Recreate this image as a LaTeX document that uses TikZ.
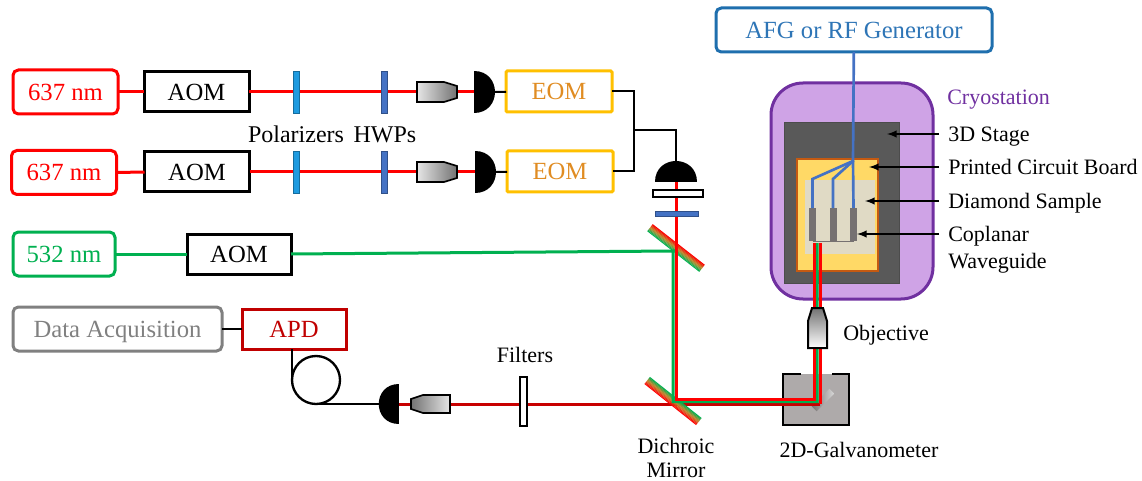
\documentclass[tikz,border=0pt]{standalone}
\usepackage{fontspec}
\setmainfont{Liberation Serif}
\usetikzlibrary{arrows}
\definecolor{laserred}{HTML}{FF0000}
\definecolor{darkbeam}{HTML}{C80000}
\definecolor{apdred}{HTML}{C00000}
\definecolor{pumpgreen}{HTML}{00B050}
\definecolor{mirrormid}{HTML}{C08A30}
\definecolor{eomgold}{HTML}{FFC000}
\definecolor{eomtext}{HTML}{E08C22}
\definecolor{afgblue}{HTML}{1F6FAE}
\definecolor{afgtext}{HTML}{2E75B6}
\definecolor{wireblue}{HTML}{4472C4}
\definecolor{polblue}{HTML}{1E9BE0}
\definecolor{cryofill}{HTML}{CFA3E6}
\definecolor{cryoline}{HTML}{7030A0}
\definecolor{stagegray}{HTML}{595959}
\definecolor{boardfill}{HTML}{FFD966}
\definecolor{boardline}{HTML}{C55A11}
\definecolor{samplefill}{HTML}{E0DAC5}
\definecolor{padgray}{HTML}{767171}
\definecolor{galvogray}{HTML}{AEAAAA}
\newcommand{\mirrorbands}[2]{
\foreach \k/\mix in {0/100,1/75,2/50,3/25,4/0} {
		\fill[#1!\mix!mirrormid] (-33,\k-4.5) rectangle (33,\k-3.3);}
\foreach \k/\mix in {5/25,6/50,7/75,8/100} {
		\fill[#2!\mix!mirrormid] (-33,\k-4.5) rectangle (33,\k-3.5);}}
\tikzset{
	wh/.style 2 args={minimum width=#1*0.75pt,minimum height=#2*0.75pt,inner sep=0pt,outer sep=0pt},
	bigtext/.style={font=\fontsize{18.5}{20}\selectfont,text height=12.2pt,text depth=0pt},
	smalltext/.style={font=\fontsize{16.5}{18}\selectfont,text height=11pt,text depth=0pt},
	laserbox/.style={draw=laserred,text=laserred,line width=2.25pt,rounded corners=4pt,bigtext},
	aombox/.style={draw=black,line width=2.25pt,bigtext},
	eombox/.style={draw=eomgold,text=eomtext,line width=2.25pt,rounded corners=1pt,bigtext},
	redbeam/.style={draw=laserred,line width=2.25pt},
	greenbeam/.style={draw=pumpgreen,line width=2.25pt},
	darkredbeam/.style={draw=darkbeam,line width=2.25pt},
	wire/.style={draw=black,line width=1.5pt},
	bluewire/.style={draw=wireblue,line width=2pt},
	pointer/.style={draw=black,line width=1.5pt,-latex},
	note/.style={smalltext,anchor=west,inner sep=0pt}
}
\begin{document}
\begin{tikzpicture}[x=0.75pt,y=-0.75pt]
\useasboundingbox (0,0) rectangle (1142,481);
\node[wh={209}{44},draw=gray,text=gray,line width=2.25pt,rounded corners=4pt,bigtext] (daq) at (117.5,329) {Data Acquisition};
\node[wh={104}{40},draw=apdred,text=apdred,line width=2.25pt,bigtext] (apd) at (294,329) {APD};
\node[wh={102}{44},laserbox,draw=pumpgreen,text=pumpgreen] (laserc) at (64,254) {532 nm};
\node[wh={104}{40},aombox] (aomc) at (239,254) {AOM};
\node[wh={276}{44},draw=afgblue,text=afgtext,line width=2.25pt,rounded corners=4pt,bigtext] (afg) at (854,30) {AFG or RF Generator};
\draw[wire] (daq) -- (apd);
\foreach \n/\yy/\dd/\lx in {a/92/0/65.5,b/172/1/64} {
		\node[wh={105}{44},laserbox] (laser\n) at (\lx,\yy+\dd/2) {637 nm};
		\node[wh={105}{40},aombox] (aom\n) at (196.5+\dd/2,\yy) {AOM};
		\node[wh={106}{41},eombox] (eom\n) at (559+\dd,\yy-0.5) {EOM};
		\coordinate (disc\n) at (474+\dd,\yy);
		\draw[redbeam] (laser\n) -- (aom\n);
		\draw[redbeam] (aom\n) -- (disc\n);
		\draw[wire] (disc\n) -- (eom\n);
		\node[wh={6}{42},fill=polblue,draw=polblue!70!black,line width=0.4pt] (pol\n) at (296,\yy) {};
		\node[wh={6}{42},fill=wireblue,draw=wireblue!70!black,line width=0.4pt] (hwp\n) at (384,\yy) {};
		\path[draw=black,line width=1.25pt,left color=gray!20,right color=gray!90!black] (417,\yy-10) -- (444,\yy-10) -- (457,\yy-6) -- (457,\yy+6) -- (444,\yy+10) -- (417,\yy+10) -- cycle;
		\fill (474+\dd,\yy-21) .. controls (502+\dd,\yy-21) and (502+\dd,\yy+21) .. (474+\dd,\yy+21) -- cycle;}
\node[bigtext,font=\fontsize{18}{20}\selectfont] (pollabel) at (296,134) {Polarizers};
\node[bigtext,font=\fontsize{18}{20}\selectfont] (hwplabel) at (385,134) {HWPs};
\coordinate (eomjoin) at (634,130);
\coordinate (discc) at (676,182);
\draw[wire] (eoma) -| (eomjoin) |- (eomb);
\draw[wire] (eomjoin) -| (discc);
\draw[fill=cryofill,draw=cryoline,line width=2.25pt,rounded corners=24pt] (771,83) rectangle (933,299);
\node[note,text=cryoline] (cryolabel) at (947,97) {Cryostation};
\node[wh={115}{161},fill=stagegray,draw=black!70,line width=0.5pt] (stage) at (841.5,202.5) {};
\node[wh={81}{112},fill=boardfill,draw=boardline,line width=1pt] (board) at (837.5,215) {};
\node[wh={70}{74},fill=samplefill] (sample) at (840,217) {};
\foreach \n/\xx in {a/812.5,b/833,c/853.5} {
		\node[wh={7}{33},fill=padgray] (pad\n) at (\xx,224.5) {};}
\draw[draw=padgray,line width=0.75pt] (pada.south) -- (padc.south);
\coordinate (wirejoin) at (853,161);
\draw[bluewire] (afg) -- (wirejoin) -- (pada.north |- 0,179) -- (pada.north);
\draw[bluewire] (wirejoin) -- (padb.north |- 0,179) -- (padb.north);
\draw[bluewire] (wirejoin) -- (padc.north);
\foreach \n/\yy/\tip/\txt in {a/134/887/3D Stage,b/167/869/Printed Circuit Board,c/201/865/Diamond Sample,d/234/857/Coplanar} {
		\node[note] (note\n) at (948,\yy) {\txt};
		\coordinate (tip\n) at (\tip,\yy);
		\draw[pointer] (939,\yy) -- (tip\n);}
\node[note] (noted2) at (948,261) {Waveguide};
\fill[galvogray] (783,374) rectangle (849,425);
\node[wh={25}{7},rotate=45,left color=padgray,right color=gray!30] (galvomirror) at (823,400) {};
\draw[draw=black,line width=2pt] (801,374) -- (783,374) -- (783,425) -- (849,425) -- (849,374) -- (832,374);
\node[wh={48}{48},circle,draw=black,line width=1.75pt] (coil) at (316,380) {};
\coordinate (discd) at (399,404);
\draw[wire] (apd.south -| coil.west) -- (coil.west);
\draw[wire] (coil.south) -- (discd);
\coordinate (galvoout) at (820,404);
\coordinate (cryoout) at (820,243);
\draw[darkredbeam] (discd) -- (673,404);
\draw[darkredbeam] (673,404) -- (galvoout);
\draw[redbeam] (galvoout) -- (cryoout);
\begin{scope}[shift={(673,401)},rotate=-38.5]
\mirrorbands{pumpgreen}{laserred}
\end{scope}
\begin{scope}[shift={(676,248)},rotate=-38]
\mirrorbands{laserred}{pumpgreen}
\end{scope}
\draw[greenbeam] (laserc) -- (aomc);
\draw[greenbeam] (aomc.east) -- (673,251) -- (673,401.5) -- (817,401.5) -- (817,243);
\draw[redbeam] (discc) -- (676,399) -- (814,399) -- (814,243);
\path[fill=white,draw=black,line width=1.75pt] (653,190) rectangle (703,197);
\node[wh={43}{5},fill=wireblue,draw=wireblue!70!black,line width=0.4pt] (hwpc) at (676.5,213.5) {};
\fill (655,182) .. controls (655,154) and (697,154) .. (697,182) -- cycle;
\node[wh={7}{49},fill=white,draw=black,line width=1.75pt] (filter) at (523.5,401.5) {};
\path[draw=black,line width=1.25pt,left color=gray!90!black,right color=gray!20] (450,395) -- (423,395) -- (411,399) -- (411,409) -- (423,413) -- (450,413) -- cycle;
\fill (399,384) .. controls (372,384) and (372,424) .. (399,424) -- cycle;
\path[draw=black,line width=1.5pt,top color=gray!90!black,bottom color=white] (812,308) -- (823,308) -- (827,321) -- (827,348) -- (808,348) -- (808,321) -- cycle;
\node[smalltext] (filterlabel) at (525,355) {Filters};
\node[note] (objlabel) at (843,333) {Objective};
\node[smalltext] (galvolabel) at (859,450) {2D-Galvanometer};
\node[smalltext] (diclabel) at (676,446) {Dichroic};
\node[smalltext] (diclabelb) at (676,470.5) {Mirror};
\end{tikzpicture}
\end{document}
